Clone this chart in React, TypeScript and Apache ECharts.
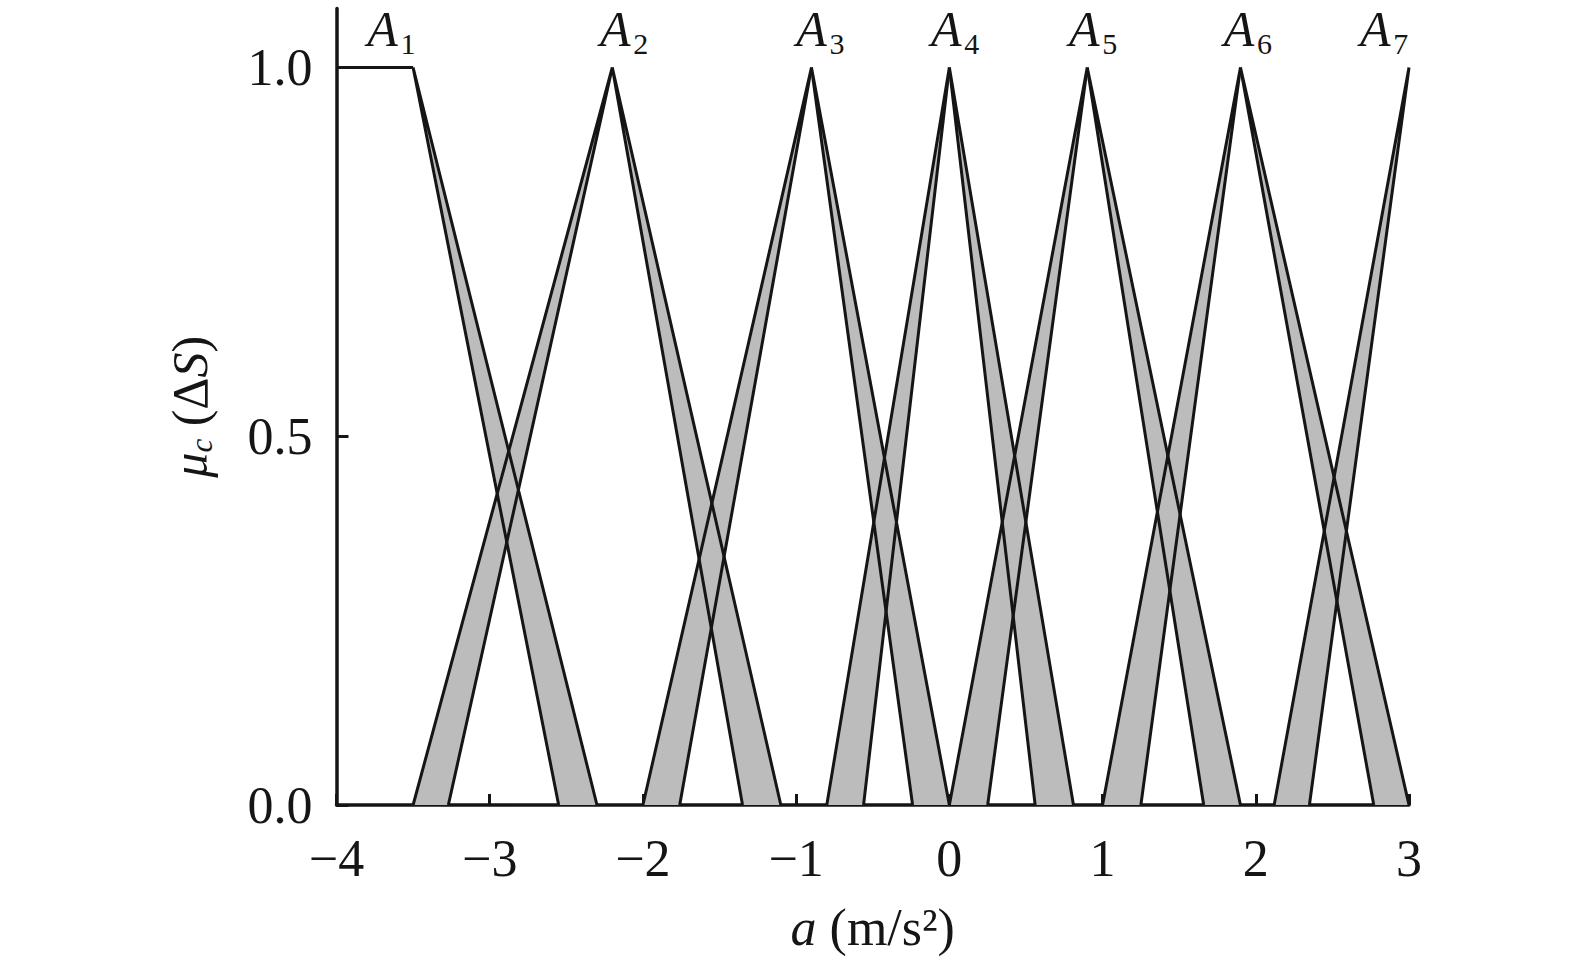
import React, { useEffect, useRef } from 'react';
import * as echarts from 'echarts';

// ---- data ----
const setIndex = [1, 2, 3, 4, 5, 6, 7];
const peaks = [-3.5, -2.2, -0.9, 0, 0.9, 1.9, 3.0];
const leftOuter: (number | null)[] = [null, -3.5, -2.0, -0.8, 0.0, 1.0, 2.12];
const leftInner: (number | null)[] = [null, -3.27, -1.76, -0.56, 0.25, 1.25, 2.35];
const rightInner: (number | null)[] = [-2.55, -1.35, -0.24, 0.56, 1.66, 2.77, null];
const rightOuter: (number | null)[] = [-2.3, -1.1, 0.0, 0.81, 1.9, 3.0, null];
const plateau = [[-4, 1], [-3.5, 1]];
const labelX = [-3.7, -2.18, -0.9, -0.02, 0.88, 1.89, 2.78];
const yTickValues = [0, 0.5, 1.0];

const SERIF = '"Liberation Serif", "Times New Roman", serif';
const INK = '#151515';
const GRAY = '#bcbcbc';

function buildWedges() {
  const w: number[][] = [];
  for (let i = 0; i < peaks.length; i++) {
    if (leftOuter[i] != null) w.push([peaks[i], leftOuter[i] as number, leftInner[i] as number, 1]);
    if (rightOuter[i] != null) w.push([peaks[i], rightOuter[i] as number, rightInner[i] as number, 1]);
  }
  return w;
}

export default function App() {
  const ref = useRef<HTMLDivElement>(null);
  useEffect(() => {
    if (!ref.current) return;
    const chart = echarts.init(ref.current, null, { renderer: 'svg' });
    const wedges = buildWedges();
    const option: any = {
      animation: false,
      backgroundColor: '#ffffff',
      grid: { left: 336.5, right: 166, top: 8.5, bottom: 155, containLabel: false, outerBoundsMode: 'none' },
      xAxis: {
        type: 'value',
        min: -4,
        max: 3,
        interval: 1,
        name: '{i|a} (m/s²)',
        nameLocation: 'middle',
        nameGap: 96,
        nameTextStyle: {
          fontFamily: SERIF, fontSize: 52, color: INK,
          rich: { i: { fontFamily: SERIF, fontSize: 52, fontStyle: 'italic', color: INK } },
        },
        axisLine: { show: true, onZero: false, lineStyle: { color: INK, width: 3.5 } },
        axisTick: { show: true, inside: true, length: 11, lineStyle: { color: INK, width: 3 } },
        axisLabel: {
          margin: 27,
          fontFamily: SERIF, fontSize: 52, color: INK,
          formatter: (v: number) => (v < 0 ? '\u2212' + Math.abs(v) : String(v)),
        },
        splitLine: { show: false },
      },
      yAxis: {
        type: 'value',
        min: 0,
        max: 1.08,
        name: '{i|μ}{s|c} (Δ{i|S})',
        nameLocation: 'middle',
        nameRotate: 90,
        nameGap: 120,
        nameTextStyle: {
          fontFamily: SERIF, fontSize: 50, color: INK,
          rich: {
            i: { fontFamily: SERIF, fontSize: 50, fontStyle: 'italic', color: INK },
            s: { fontFamily: SERIF, fontSize: 31, fontStyle: 'italic', color: INK, padding: [22, 0, 0, 0] },
          },
        },
        axisLine: { show: true, onZero: false, lineStyle: { color: INK, width: 3.5 } },
        axisTick: { show: true, inside: true, length: 12, customValues: yTickValues, lineStyle: { color: INK, width: 3 } },
        axisLabel: {
          margin: 24,
          customValues: yTickValues,
          fontFamily: SERIF, fontSize: 52, color: INK,
          formatter: (v: number) => v.toFixed(1),
        },
        splitLine: { show: false },
      },
      series: [
        {
          type: 'custom',
          name: 'fills',
          data: wedges,
          encode: { x: [0, 1, 2], y: 3 },
          silent: true,
          renderItem: (params: any, api: any) => {
            const a = api.coord([api.value(0), 1]);
            const o = api.coord([api.value(1), 0]);
            const n = api.coord([api.value(2), 0]);
            return { type: 'polygon', shape: { points: [a, o, n] }, style: { fill: GRAY, stroke: 'none' } };
          },
        },
        {
          type: 'custom',
          name: 'edges',
          data: wedges,
          encode: { x: [0, 1, 2], y: 3 },
          silent: true,
          renderItem: (params: any, api: any) => {
            const a = api.coord([api.value(0), 1]);
            const o = api.coord([api.value(1), 0]);
            const n = api.coord([api.value(2), 0]);
            return {
              type: 'polyline',
              shape: { points: [o, a, n] },
              style: { stroke: INK, lineWidth: 3, fill: 'none', lineJoin: 'miter' },
            };
          },
        },
        {
          type: 'line',
          name: 'plateau',
          data: plateau,
          symbol: 'none',
          lineStyle: { color: INK, width: 3 },
          silent: true,
        },
        {
          type: 'custom',
          name: 'labels',
          data: labelX.map((x, i) => [x, 1, setIndex[i]]),
          encode: { x: 0, y: 1 },
          silent: true,
          renderItem: (params: any, api: any) => {
            const p = api.coord([api.value(0), 1]);
            const n = api.value(2);
            return {
              type: 'group',
              children: [
                {
                  type: 'text',
                  x: p[0],
                  y: p[1] - 39,
                  style: {
                    text: 'A', fill: INK, fontFamily: SERIF, fontSize: 50, fontStyle: 'italic',
                    textAlign: 'center', textVerticalAlign: 'middle', align: 'center', verticalAlign: 'middle',
                  },
                },
                {
                  type: 'text',
                  x: p[0] + 18,
                  y: p[1] - 24,
                  style: {
                    text: String(n), fill: INK, fontFamily: SERIF, fontSize: 30,
                    textAlign: 'left', textVerticalAlign: 'middle', align: 'left', verticalAlign: 'middle',
                  },
                },
              ],
            };
          },
        },
      ],
    };
    chart.setOption(option);
    return () => chart.dispose();
  }, []);
  return (
    <div
      ref={ref}
      style={{ position: 'absolute', left: 0, top: 0, width: 1575, height: 960, background: '#fff' }}
    />
  );
}
